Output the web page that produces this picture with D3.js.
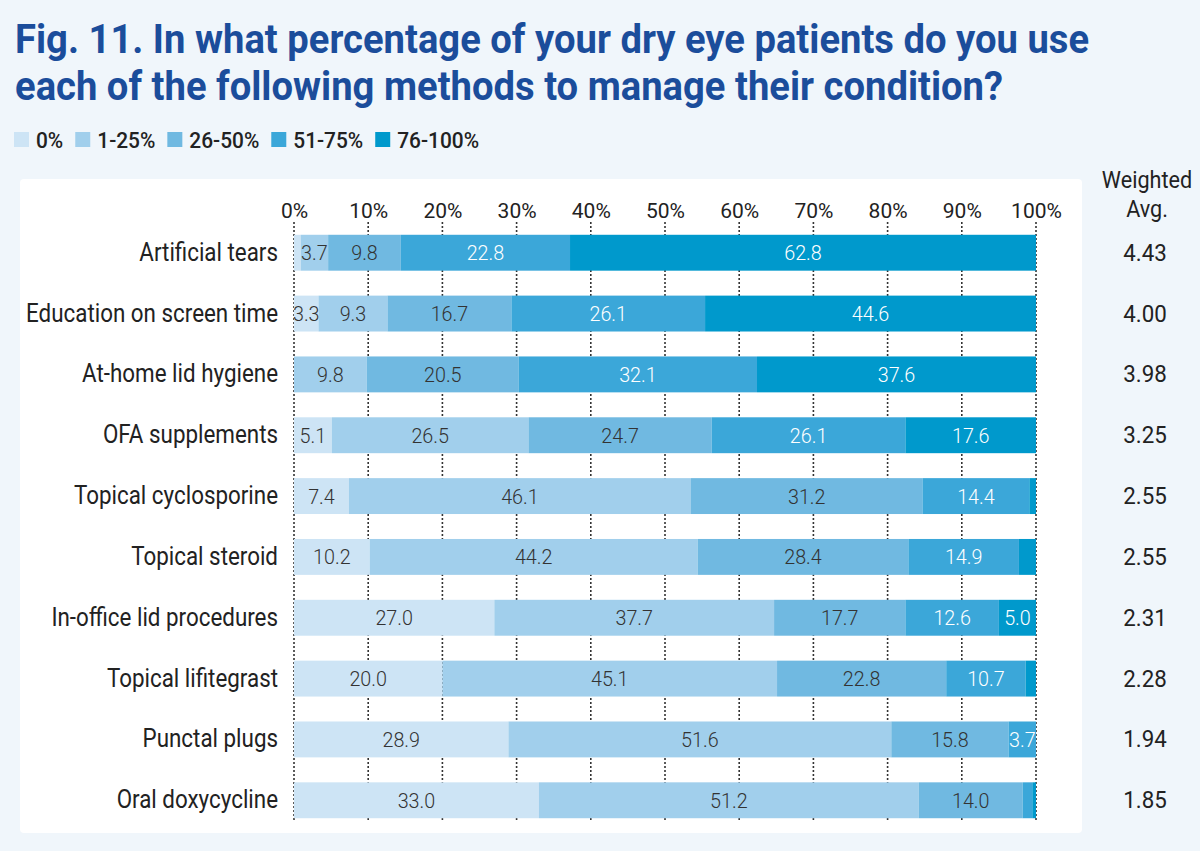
<!DOCTYPE html>
<html><head><meta charset="utf-8">
<script src="https://cdn.jsdelivr.net/npm/d3@7"></script>
<style>
html,body{margin:0;padding:0;background:#f0f6fb;}
svg{display:block;}
text{font-family:Roboto,"Noto Sans",sans-serif;}
</style></head>
<body>
<svg id="chart" width="1200" height="851"></svg>
<script>
const titleLines = ["Fig. 11. In what percentage of your dry eye patients do you use",
                    "each of the following methods to manage their condition?"];
const seriesNames = ["0%", "1-25%", "26-50%", "51-75%", "76-100%"];
const seriesColors = ["#cde4f5", "#a1cfec", "#70b9e1", "#3ba7d9", "#0099cc"];
const categories = ["Artificial tears","Education on screen time","At-home lid hygiene","OFA supplements",
  "Topical cyclosporine","Topical steroid","In-office lid procedures","Topical lifitegrast","Punctal plugs","Oral doxycycline"];
const v0   = [0.9, 3.3, 0.0, 5.1, 7.4, 10.2, 27.0, 20.0, 28.9, 33.0];
const v1   = [3.7, 9.3, 9.8, 26.5, 46.1, 44.2, 37.7, 45.1, 51.6, 51.2];
const v26  = [9.8, 16.7, 20.5, 24.7, 31.2, 28.4, 17.7, 22.8, 15.8, 14.0];
const v51  = [22.8, 26.1, 32.1, 26.1, 14.4, 14.9, 12.6, 10.7, 3.7, 1.3];
const v76  = [62.8, 44.6, 37.6, 17.6, 0.9, 2.3, 5.0, 1.4, 0.0, 0.5];
const weightedAvg = ["4.43","4.00","3.98","3.25","2.55","2.55","2.31","2.28","1.94","1.85"];
const tickValues = [0,10,20,30,40,50,60,70,80,90,100];
const avgHeader = ["Weighted","Avg."];

const svg = d3.select("#chart");
const series = [v0, v1, v26, v51, v76];
const rows = categories.map((c,i)=>{ const r={cat:c}; seriesNames.forEach((s,j)=>r[s]=series[j][i]); return r; });
const stacked = d3.stack().keys(seriesNames)(rows);

const x = d3.scaleLinear().domain([0,100]).range([294,1036]);
const y = d3.scaleBand().domain(categories).range([222,831]).paddingInner(0.41).paddingOuter(0.21);
const color = d3.scaleOrdinal().domain(seriesNames).range(seriesColors);
const lightText = new Set(["51-75%","76-100%"]);

// title
svg.append("g").selectAll("text").data(titleLines).join("text")
  .attr("transform",(d,i)=>`translate(15,${53+i*47}) scale(0.955,1)`)
  .attr("font-size",40).attr("font-weight",700).attr("fill","#1b4d9b").text(d=>d);

// legend
const leg = svg.append("g");
let lx = 14;
seriesNames.forEach((s,i)=>{
  leg.append("rect").attr("x",lx).attr("y",132).attr("width",15).attr("height",15).attr("fill",seriesColors[i]);
  const t = leg.append("text").attr("transform",`translate(${lx+22},147.5) scale(0.95,1)`)
    .attr("font-size",22).attr("font-weight",500).attr("fill","#222").text(s);
  lx += 22 + t.node().getComputedTextLength()*0.95 + 12;
});

// panel
svg.append("rect").attr("x",20).attr("y",179).attr("width",1062).attr("height",654).attr("rx",4).attr("fill","#fff");

// gridlines
svg.append("g").selectAll("line").data(tickValues).join("line")
  .attr("x1",d=>x(d)).attr("x2",d=>x(d)).attr("y1",222).attr("y2",822)
  .attr("stroke","#333").attr("stroke-width",1.6).attr("stroke-dasharray","2,2");

// axis
const axis = svg.append("g").attr("transform","translate(0,218)")
  .call(d3.axisTop(x).tickValues(tickValues).tickFormat(d=>d+"%").tickSize(0).tickPadding(0));
axis.select(".domain").remove();
axis.selectAll("text").attr("font-size",21).attr("font-weight",400).attr("fill","#222")
  .attr("font-family","Roboto,sans-serif").attr("dy",0);

// bars
const layers = svg.append("g").selectAll("g").data(stacked).join("g").attr("fill",d=>color(d.key));
layers.selectAll("rect").data(d=>d).join("rect")
  .attr("x",d=>x(d[0])).attr("width",d=>x(d[1])-x(d[0]))
  .attr("y",d=>y(d.data.cat)).attr("height",y.bandwidth());

// value labels
const labG = svg.append("g");
stacked.forEach(layer=>{
  layer.forEach(d=>{
    const v = d[1]-d[0];
    if (v < 3) return;
    labG.append("text")
      .attr("transform",`translate(${(x(d[0])+x(d[1]))/2},${y(d.data.cat)+y.bandwidth()/2+7.5}) scale(0.94,1)`)
      .attr("text-anchor","middle").attr("font-size",21).attr("font-weight",300)
      .attr("fill", lightText.has(layer.key) ? "#fff" : "#333")
      .text(d3.format(".1f")(v));
  });
});

// category labels
svg.append("g").selectAll("text").data(categories).join("text")
  .attr("transform",d=>`translate(278,${y(d)+y.bandwidth()/2+8}) scale(0.895,1)`)
  .attr("text-anchor","end").attr("font-size",25).attr("font-weight",400).attr("fill","#222").text(d=>d);

// weighted avg
svg.append("g").selectAll("text").data(avgHeader).join("text")
  .attr("transform",(d,i)=>`translate(1147,${188+i*29}) scale(0.9,1)`)
  .attr("text-anchor","middle").attr("font-size",24).attr("fill","#222").text(d=>d);
svg.append("g").selectAll("text").data(weightedAvg).join("text")
  .attr("transform",(d,i)=>`translate(1145,${y(categories[i])+y.bandwidth()/2+8}) scale(0.93,1)`)
  .attr("text-anchor","middle").attr("font-size",24).attr("fill","#222").text(d=>d);
</script>
</body></html>
